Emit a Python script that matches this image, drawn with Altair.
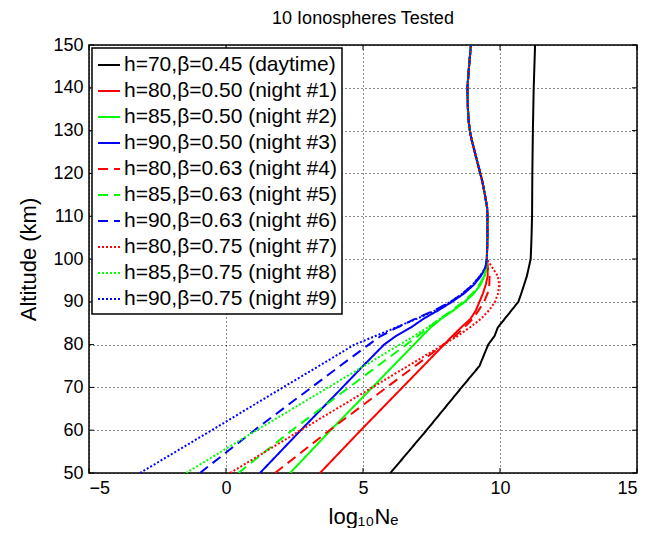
import altair as alt
import pandas as pd

TITLE = "10 Ionospheres Tested"
SERIES = [
    "h=70,β=0.45 (daytime)",
    "h=80,β=0.50 (night #1)",
    "h=85,β=0.50 (night #2)",
    "h=90,β=0.50 (night #3)",
    "h=80,β=0.63 (night #4)",
    "h=85,β=0.63 (night #5)",
    "h=90,β=0.63 (night #6)",
    "h=80,β=0.75 (night #7)",
    "h=85,β=0.75 (night #8)",
    "h=90,β=0.75 (night #9)",
]
COLORS = ["#000000", "#ff0000", "#00ff00", "#0000ff",
          "#ff0000", "#00ff00", "#0000ff",
          "#ff0000", "#00ff00", "#0000ff"]
DASHES = [[1, 0]] * 4 + [[10, 6]] * 3 + [[2, 2]] * 3

X_TICKS = [-5, 0, 5, 10, 15]
Y_TICKS = [50, 60, 70, 80, 90, 100, 110, 120, 130, 140, 150]

# daytime profile
DAY_ALT = [50, 60, 70, 75, 80, 82, 84, 86, 88, 90, 92, 94, 96, 98, 100,
           105, 110, 120, 130, 140, 150]
DAY_X = [6.0, 7.32, 8.60, 9.25, 9.57, 9.80, 9.92, 10.17, 10.42, 10.67, 10.78,
         10.88, 10.98, 11.05, 11.12, 11.15, 11.17, 11.18, 11.20, 11.23, 11.28]

# night profiles, lower part
NIGHT_ALT = [50, 60, 70, 75, 80, 82, 84, 86, 88, 90, 92, 94, 96, 98]
N1 = [3.43, 4.92, 6.44, 7.20, 7.96, 8.26, 8.58, 8.92, 9.12, 9.25, 9.38, 9.48, 9.55, 9.55]
N2 = [2.34, 3.82, 5.34, 6.10, 6.86, 7.16, 7.47, 7.85, 8.30, 8.72, 9.05, 9.29, 9.42, 9.50]
N3 = [1.24, 2.73, 4.25, 5.00, 5.77, 6.20, 6.75, 7.20, 7.75, 8.25, 8.70, 9.05, 9.30, 9.47]
N4 = [1.79, 3.78, 5.86, 6.90, 7.94, 8.36, 8.70, 9.00, 9.22, 9.42, 9.55, 9.61, 9.62, 9.55]
N5 = [0.45, 2.41, 4.49, 5.53, 6.58, 7.00, 7.40, 7.80, 8.25, 8.65, 9.00, 9.25, 9.42, 9.50]
N6 = [-0.95, 1.04, 3.12, 4.16, 5.21, 5.65, 6.25, 6.90, 7.60, 8.20, 8.65, 9.00, 9.27, 9.47]
N7 = [0.15, 2.73, 5.34, 6.64, 7.94, 8.45, 8.90, 9.30, 9.60, 9.82, 9.93, 9.97, 9.92, 9.72]
N8 = [-1.46, 1.12, 3.73, 5.04, 6.34, 6.86, 7.35, 7.80, 8.30, 8.70, 9.05, 9.28, 9.45, 9.50]
N9 = [-3.14, -0.52, 2.08, 3.39, 4.69, 5.45, 6.20, 6.95, 7.65, 8.20, 8.65, 9.00, 9.27, 9.47]

# shared upper part of the night profiles
UPPER_ALT = [100, 105, 110, 112, 115, 118, 120, 122, 125, 128, 130, 132, 135,
             140, 145, 150]
UPPER_X = [9.52, 9.54, 9.54, 9.53, 9.45, 9.36, 9.28, 9.20, 9.08, 8.96, 8.90,
           8.86, 8.83, 8.81, 8.87, 8.94]

rows = []
for a, x in zip(DAY_ALT, DAY_X):
    rows.append({"series": SERIES[0], "alt": a, "ne": x})
for name, lower in zip(SERIES[1:], [N1, N2, N3, N4, N5, N6, N7, N8, N9]):
    for a, x in zip(NIGHT_ALT, lower):
        rows.append({"series": name, "alt": a, "ne": x})
    for a, x in zip(UPPER_ALT, UPPER_X):
        rows.append({"series": name, "alt": a, "ne": x})
df = pd.DataFrame(rows)

xt = pd.DataFrame({"ne": X_TICKS})
yt = pd.DataFrame({"alt": Y_TICKS})

FONT = "Liberation Sans"
XS = alt.Scale(domain=[-5, 15], nice=False, zero=False)
YS = alt.Scale(domain=[50, 150], nice=False, zero=False)

lines = alt.Chart(df).mark_line(strokeWidth=2, strokeCap="butt", clip=True).encode(
    x=alt.X("ne:Q", scale=XS,
            axis=alt.Axis(values=X_TICKS, title="log₁₀Nₑ", format="d",
                          titlePadding=9)),
    y=alt.Y("alt:Q", scale=YS,
            axis=alt.Axis(values=Y_TICKS, title="Altitude (km)", titlePadding=12)),
    color=alt.Color("series:N", scale=alt.Scale(domain=SERIES, range=COLORS),
                    sort=SERIES, title=None),
    strokeDash=alt.StrokeDash("series:N", scale=alt.Scale(domain=SERIES, range=DASHES),
                              sort=SERIES, title=None),
    order=alt.Order("alt:Q"),
)

tick_style = dict(color="black", strokeWidth=1)
ticks_bottom = alt.Chart(xt).mark_rule(**tick_style).encode(
    x=alt.X("ne:Q", scale=XS), y=alt.value(428), y2=alt.value(423))
ticks_top = alt.Chart(xt).mark_rule(**tick_style).encode(
    x=alt.X("ne:Q", scale=XS), y=alt.value(0), y2=alt.value(5))
ticks_left = alt.Chart(yt).mark_rule(**tick_style).encode(
    y=alt.Y("alt:Q", scale=YS), x=alt.value(0), x2=alt.value(5))
ticks_right = alt.Chart(yt).mark_rule(**tick_style).encode(
    y=alt.Y("alt:Q", scale=YS), x=alt.value(548), x2=alt.value(543))

chart = alt.layer(
    ticks_bottom, ticks_top, ticks_left, ticks_right, lines
).properties(
    width=548, height=428,
    title=alt.TitleParams(TITLE, fontSize=18, font=FONT, fontWeight="normal",
                          color="black", offset=8),
    padding={"left": 81, "top": 37, "right": 10, "bottom": 55},
    autosize=alt.AutoSizeParams(type="none"),
).configure_view(
    stroke="black", strokeWidth=1.5
).configure_axis(
    domain=False, ticks=False,
    grid=True, gridColor="black", gridDash=[1, 3], gridOpacity=0.9, gridWidth=1,
    labelFont=FONT, labelFontSize=18, labelColor="black", labelPadding=6,
    titleFont=FONT, titleFontSize=22, titleFontWeight="normal", titleColor="black",
).configure_legend(
    orient="top-left", offset=3, padding=5,
    strokeColor="black", fillColor="white", strokeWidth=1.5, cornerRadius=0,
    symbolType="stroke", symbolSize=484, symbolStrokeWidth=2,
    labelFont=FONT, labelFontSize=21, labelColor="black", labelOffset=3,
    rowPadding=4, labelLimit=400,
)

chart.save("out.html", embed_options={"renderer": "svg", "actions": False})
